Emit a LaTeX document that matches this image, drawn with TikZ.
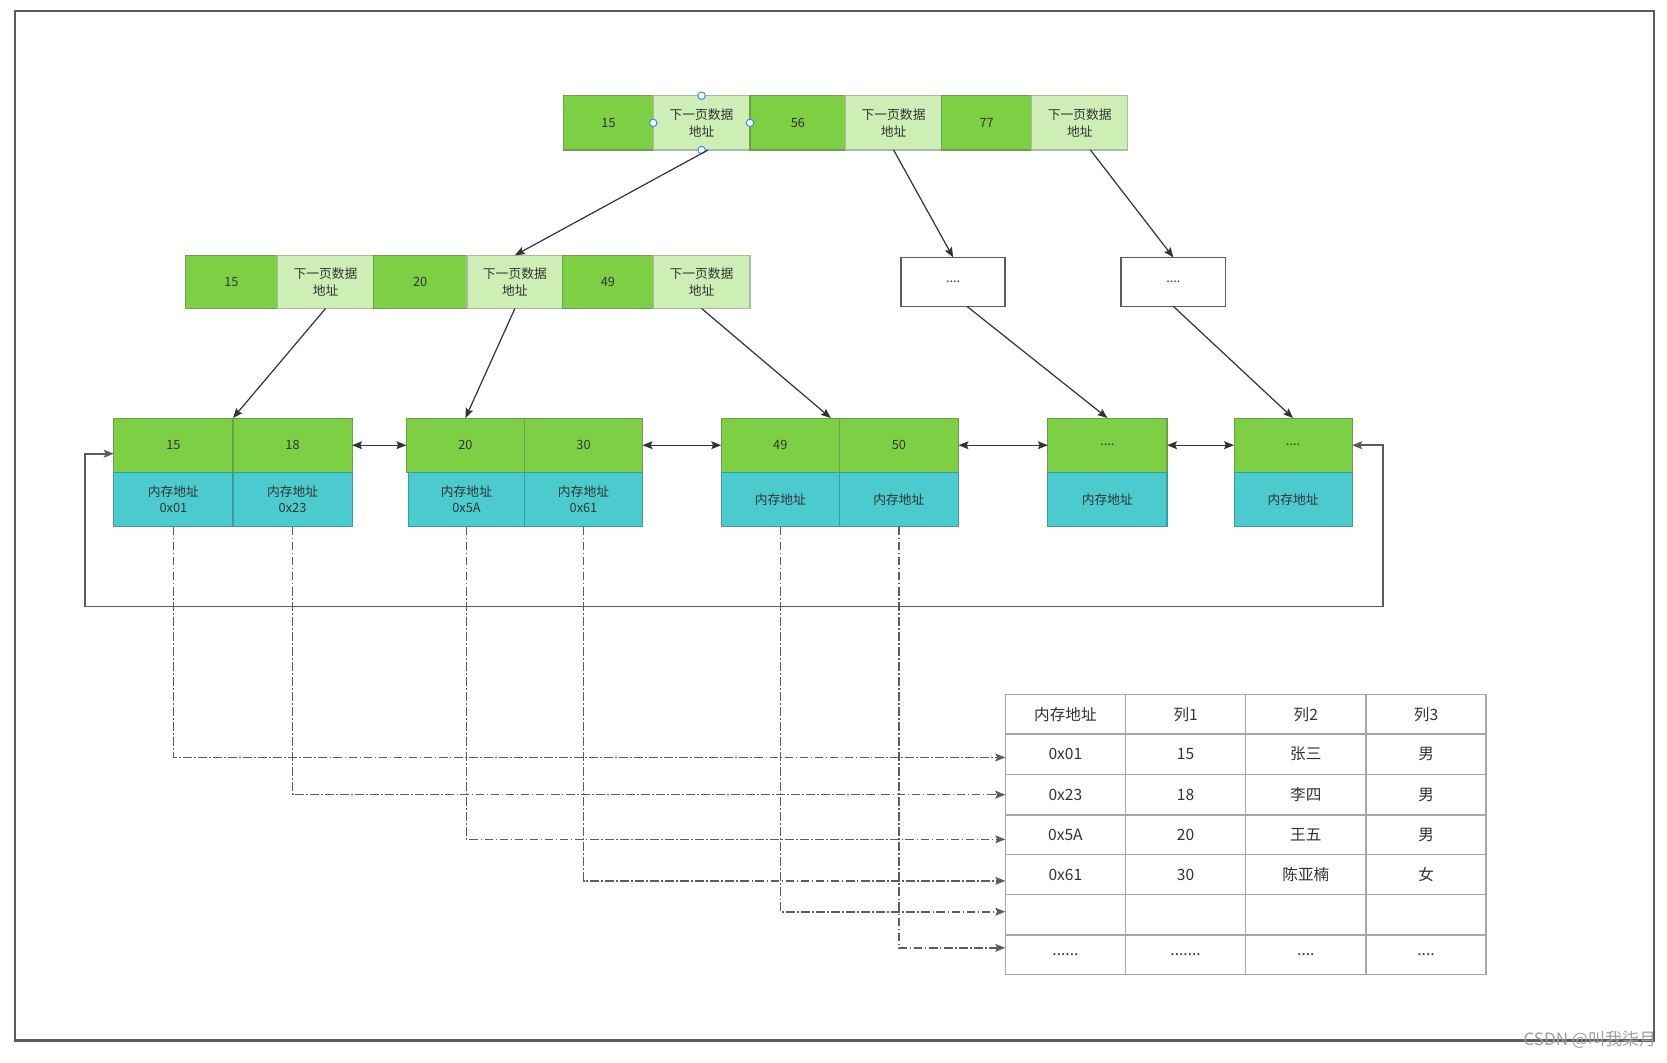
\documentclass[tikz,border=0pt]{standalone}
\usepackage{fontspec}
\setmainfont{Noto Sans CJK SC}
\usetikzlibrary{arrows.meta,calc}
\definecolor{gfill}{HTML}{7DD044}
\definecolor{gline}{HTML}{6E9E4E}
\definecolor{lfill}{HTML}{CDEEB4}
\definecolor{lline}{HTML}{A9B9A2}
\definecolor{tfill}{HTML}{4BCBCD}
\definecolor{tline}{HTML}{3A9CA3}
\definecolor{txt}{HTML}{333333}
\definecolor{dark}{HTML}{333333}
\definecolor{frm}{HTML}{5A5D63}
\definecolor{tabline}{HTML}{A6A6A6}
\definecolor{hblue}{HTML}{2A8CFF}
\definecolor{wmk}{HTML}{9E9E9E}
\newcommand\dsixA{......}
\newcommand\dsevB{.......}
\newcommand\dfourC{....}
\newcommand\mycell[7]{%
  \node[#2, minimum width={(#5-#3)*0.75pt}, minimum height={(#6-#4)*0.75pt}] (#1) at ({(#3+#5)/2},{(#4+#6)/2}) {#7};}
\tikzset{
  base/.style={inner sep=0pt, outer sep=0pt, line width=0.75pt, text=txt, align=center,
    font=\fontsize{9}{12}\selectfont},
  gc/.style={base, fill=gfill, draw=gline},
  lc/.style={base, fill=lfill, draw=lline},
  tcl/.style={base, fill=tfill, draw=tline, font=\fontsize{9}{11.25}\selectfont},
  wb/.style={base, fill=white, draw=frm, line width=1.2pt},
  tc/.style={inner sep=0pt, outer sep=0pt, draw=tabline, line width=1pt, text=txt,
    minimum width={113*0.75pt}, font=\fontsize{11}{13}\selectfont},
  tip/.style={-{Stealth[length=7pt,width=5.5pt,inset=1.2pt]}},
  conn/.style={draw=dark, line width=0.85pt, tip},
  biarrow/.style={draw=dark, line width=0.95pt, {Stealth[length=7pt,width=5.5pt,inset=1.2pt]}-{Stealth[length=7pt,width=5.5pt,inset=1.2pt]}},
  loopst/.style={draw=frm, line width=1.2pt, {Stealth[length=7pt,width=5.5pt,inset=1.2pt]}-{Stealth[length=7pt,width=5.5pt,inset=1.2pt]}},
  dd/.style={draw=frm, line width=1.15pt, dash pattern=on 6.2pt off 1.6pt on 1.2pt off 1.6pt, tip},
  handle/.style={draw=hblue, fill=white, line width=0.7pt},
}
\begin{document}
\begin{tikzpicture}[x=0.75pt,y=-0.75pt]
\useasboundingbox (0,0) rectangle (1567,998.3);
\fill[white] (0,0) rectangle (1567,998.3);
\draw[frm, line width=1.6pt] (14,10) rectangle (1555,978);

% top row
\mycell{t1}{gc}{530}{90}{614}{141}{15}
\mycell{t2}{lc}{614}{90}{705}{141}{下一页数据\\地址}
\mycell{t3}{gc}{705}{90}{795}{141}{56}
\mycell{t4}{lc}{795}{90}{885}{141}{下一页数据\\地址}
\mycell{t5}{gc}{885}{90}{970}{141}{77}
\mycell{t6}{lc}{970}{90}{1060}{141}{下一页数据\\地址}
\foreach \a in {north,south,east,west} \draw[handle] (t2.\a) circle (3.5);

% middle row
\mycell{m1}{gc}{174}{240}{261}{290}{15}
\mycell{m2}{lc}{261}{240}{351}{290}{下一页数据\\地址}
\mycell{m3}{gc}{351}{240}{439}{290}{20}
\mycell{m4}{lc}{439}{240}{529}{290}{下一页数据\\地址}
\mycell{m5}{gc}{529}{240}{614}{290}{49}
\mycell{m6}{lc}{614}{240}{705}{290}{下一页数据\\地址}

\mycell{w1}{wb}{847}{242}{945}{288}{\dfourC}
\mycell{w2}{wb}{1054}{242}{1152}{288}{\dfourC}

% leaves
\mycell{L1a}{gc}{107}{393}{219}{444}{15}
\mycell{L1b}{gc}{219}{393}{331}{444}{18}
\mycell{T1a}{tcl}{107}{444}{219}{495}{内存地址\\0x01}
\mycell{T1b}{tcl}{219}{444}{331}{495}{内存地址\\0x23}
\mycell{L2a}{gc}{382}{393}{493}{444}{20}
\mycell{L2b}{gc}{493}{393}{604}{444}{30}
\mycell{T2a}{tcl}{384}{444}{493}{495}{内存地址\\0x5A}
\mycell{T2b}{tcl}{493}{444}{604}{495}{内存地址\\0x61}
\mycell{L3a}{gc}{678}{393}{789}{444}{49}
\mycell{L3b}{gc}{789}{393}{901}{444}{50}
\mycell{T3a}{tcl}{678}{444}{789}{495}{内存地址}
\mycell{T3b}{tcl}{789}{444}{901}{495}{内存地址}
\mycell{L4}{gc}{985}{393}{1097}{444}{\dfourC}
\mycell{T4}{tcl}{985}{444}{1097}{495}{内存地址}
\mycell{L5}{gc}{1160}{393}{1271}{444}{\dfourC}
\mycell{T5}{tcl}{1160}{444}{1271}{495}{内存地址}

% tree connectors
\draw[conn] ($(t2.south)+(6,0)$) -- (m4.north);
\draw[conn] (t4.south) -- (w1.north);
\draw[conn] ($(t6.south)+(10,0)$) -- (w2.north);
\draw[conn] (m2.south) -- (L1a.north east);
\draw[conn] (m4.south) -- (L2a.north);
\draw[conn] (m6.south) -- ($(L3a.north east)+(-8,0)$);
\draw[conn] ($(w1.south)+(13,0)$) -- (L4.north);
\draw[conn] (w2.south) -- (L5.north);

% leaf links
\draw[biarrow] (L1b.east) -- (L2a.west);
\draw[biarrow] (L2b.east) -- (L3a.west);
\draw[biarrow] (L3b.east) -- (L4.west);
\draw[biarrow] (L4.east) -- (L5.west);

\coordinate (loopR) at (1300,570);
\draw[loopst] (L5.east) -| (loopR) -| ($(L1a.west)+(-27,8)$) -- ($(L1a.west)+(0,8)$);

% table
\foreach \r/\ya/\yb/\ca/\cb/\cc/\cd in {
  0/653/690/内存地址/列1/列2/列3,
  1/690/728/0x01/15/张三/男,
  2/728/766/0x23/18/李四/男,
  3/766/803/0x5A/20/王五/男,
  4/803/841/0x61/30/陈亚楠/女,
  5/841/879/{}/{}/{}/{},
  6/879/916/\dsixA/\dsevB/\dfourC/\dfourC}{
  \node[tc, minimum height={(\yb-\ya)*0.75pt}] (tab-\r-1) at (1001.5,{(\ya+\yb)/2}) {\ca};
  \node[tc, minimum height={(\yb-\ya)*0.75pt}] (tab-\r-2) at (1114.5,{(\ya+\yb)/2}) {\cb};
  \node[tc, minimum height={(\yb-\ya)*0.75pt}] (tab-\r-3) at (1227.5,{(\ya+\yb)/2}) {\cc};
  \node[tc, minimum height={(\yb-\ya)*0.75pt}] (tab-\r-4) at (1340.5,{(\ya+\yb)/2}) {\cd};
}

% dash-dot links to table
\draw[dd] (T1a.south) |- ($(tab-1-1.west)+(0,3)$);
\draw[dd] (T1b.south) |- (tab-2-1.west);
\draw[dd] (T2a.south) |- ($(tab-3-1.west)+(0,4.5)$);
\draw[dd] (T2b.south) |- ($(tab-4-1.west)+(0,6)$);
\draw[dd] (T3a.south) |- ($(tab-5-1.west)+(0,-3)$);
\draw[dd] (T3b.south) |- ($(tab-6-1.west)+(0,-6.5)$);

\node[text=wmk, inner sep=0pt, anchor=east, font=\fontsize{12}{14}\selectfont] (wm) at (1557,977) {CSDN @叫我柒月};
\end{tikzpicture}
\end{document}
